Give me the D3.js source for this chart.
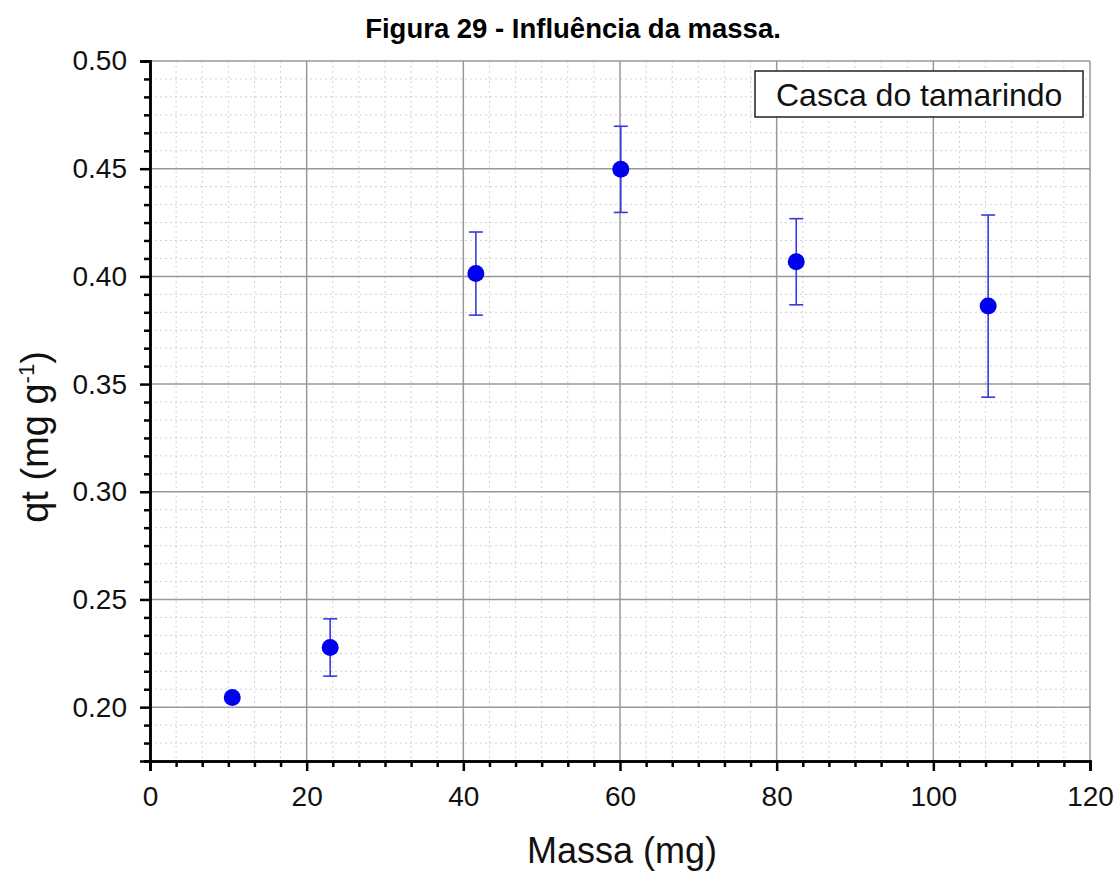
<!DOCTYPE html>
<html><head><meta charset="utf-8">
<script src="https://cdn.jsdelivr.net/npm/d3@7"></script>
<style>body{margin:0;background:#fff}</style>
</head><body>
<svg id="c" width="1118" height="872"></svg>
<script>
const massa = [10.5, 23, 41.6, 60.1, 82.5, 107];
const qt = [0.2045, 0.2277, 0.4013, 0.4497, 0.4068, 0.3862];
const erro = [0.0015, 0.0133, 0.0193, 0.02, 0.02, 0.0423];
const xTicks = [0, 20, 40, 60, 80, 100, 120];
const yTicks = [0.20, 0.25, 0.30, 0.35, 0.40, 0.45, 0.50];
const legendLabel = "Casca do tamarindo";

const svg = d3.select("#c");
const L = 150, R = 1090, T = 61, B = 761;
const x = d3.scaleLinear().domain([0, 120]).range([L, R]);
const y = d3.scaleLinear().domain([0.175, 0.50]).range([B, T]);
const font = "Liberation Sans, Arial, sans-serif";

// minor grid
const xMinor = d3.range(0, 120.001, 20/6).filter(v => Math.abs(v/20 - Math.round(v/20)) > 1e-6);
const yMinor = d3.range(0.50, 0.1749, -0.05/6).filter(v => Math.abs(v/0.05 - Math.round(v/0.05)) > 1e-6);
const g = svg.append("g");
g.selectAll(".vx").data(xMinor).join("line")
  .attr("x1", d => x(d)).attr("x2", d => x(d)).attr("y1", T).attr("y2", B)
  .attr("stroke", "#d2d2d2").attr("stroke-width", 1).attr("stroke-dasharray", "2,3");
g.selectAll(".hy").data(yMinor).join("line")
  .attr("y1", d => y(d)).attr("y2", d => y(d)).attr("x1", L).attr("x2", R)
  .attr("stroke", "#d2d2d2").attr("stroke-width", 1).attr("stroke-dasharray", "2,3");
// major grid
g.selectAll(".mx").data(xTicks.slice(1)).join("line")
  .attr("x1", d => x(d)).attr("x2", d => x(d)).attr("y1", T).attr("y2", B)
  .attr("stroke", "#999").attr("stroke-width", 1.5);
g.selectAll(".my").data(yTicks).join("line")
  .attr("y1", d => y(d)).attr("y2", d => y(d)).attr("x1", L).attr("x2", R)
  .attr("stroke", "#999").attr("stroke-width", 1.5);

// axes
const xAxis = d3.axisBottom(x).tickValues(xTicks).tickFormat(d3.format("d")).tickSize(10).tickPadding(15);
const xAxisMinor = d3.axisBottom(x).tickValues(xMinor).tickFormat("").tickSize(6);
const yAxis = d3.axisLeft(y).tickValues(yTicks).tickFormat(d3.format(".2f")).tickSize(10).tickPadding(13);
const yAxisMinor = d3.axisLeft(y).tickValues(yMinor).tickFormat("").tickSize(6);

function style(sel) {
  sel.attr("font-size", 28).attr("font-family", font);
  sel.selectAll("path").attr("stroke", "#000").attr("stroke-width", 2.5);
  sel.selectAll("line").attr("stroke", "#000").attr("stroke-width", 2.5);
  sel.selectAll("text").attr("font-family", font).attr("font-size", 28).attr("fill", "#111");
}
svg.append("g").attr("transform", `translate(0,${B})`).call(xAxisMinor).call(style);
svg.append("g").attr("transform", `translate(0,${B})`).call(xAxis).call(style);
svg.append("g").attr("transform", `translate(${L},0)`).call(yAxisMinor).call(style);
svg.append("g").attr("transform", `translate(${L},0)`).call(yAxis).call(style);

// error bars
const eb = svg.append("g").attr("stroke", "#3a3ae0").attr("stroke-width", 1.6);
massa.forEach((m, i) => {
  const cx = x(m), y1 = y(qt[i] + erro[i]), y2 = y(qt[i] - erro[i]);
  eb.append("line").attr("x1", cx).attr("x2", cx).attr("y1", y1).attr("y2", y2);
  eb.append("line").attr("x1", cx - 7).attr("x2", cx + 7).attr("y1", y1).attr("y2", y1);
  eb.append("line").attr("x1", cx - 7).attr("x2", cx + 7).attr("y1", y2).attr("y2", y2);
});
svg.append("g").selectAll("circle").data(massa).join("circle")
  .attr("cx", d => x(d)).attr("cy", (d, i) => y(qt[i])).attr("r", 8.5).attr("fill", "#0000f0");

// legend
svg.append("rect").attr("x", 755).attr("y", 71).attr("width", 328).attr("height", 46)
  .attr("fill", "#fff").attr("stroke", "#222").attr("stroke-width", 1.5);
svg.append("text").attr("x", 776).attr("y", 106).attr("font-family", font).attr("font-size", 32)
  .attr("fill", "#111").text(legendLabel);

// titles
svg.append("text").attr("x", 573).attr("y", 38).attr("text-anchor", "middle")
  .attr("font-family", font).attr("font-weight", "bold").attr("font-size", 27.5).attr("fill", "#000")
  .text("Figura 29 - Influência da massa.");
svg.append("text").attr("x", 622).attr("y", 863).attr("text-anchor", "middle")
  .attr("font-family", font).attr("font-size", 36).attr("fill", "#111").text("Massa (mg)");
const yl = svg.append("text").attr("transform", "translate(48,437) rotate(-90)").attr("text-anchor", "middle")
  .attr("font-family", font).attr("font-size", 38).attr("fill", "#111");
yl.append("tspan").text("qt (mg g");
yl.append("tspan").attr("dy", -14).attr("font-size", 22).text("-1");
yl.append("tspan").attr("dy", 14).text(")");
</script>
</body></html>
